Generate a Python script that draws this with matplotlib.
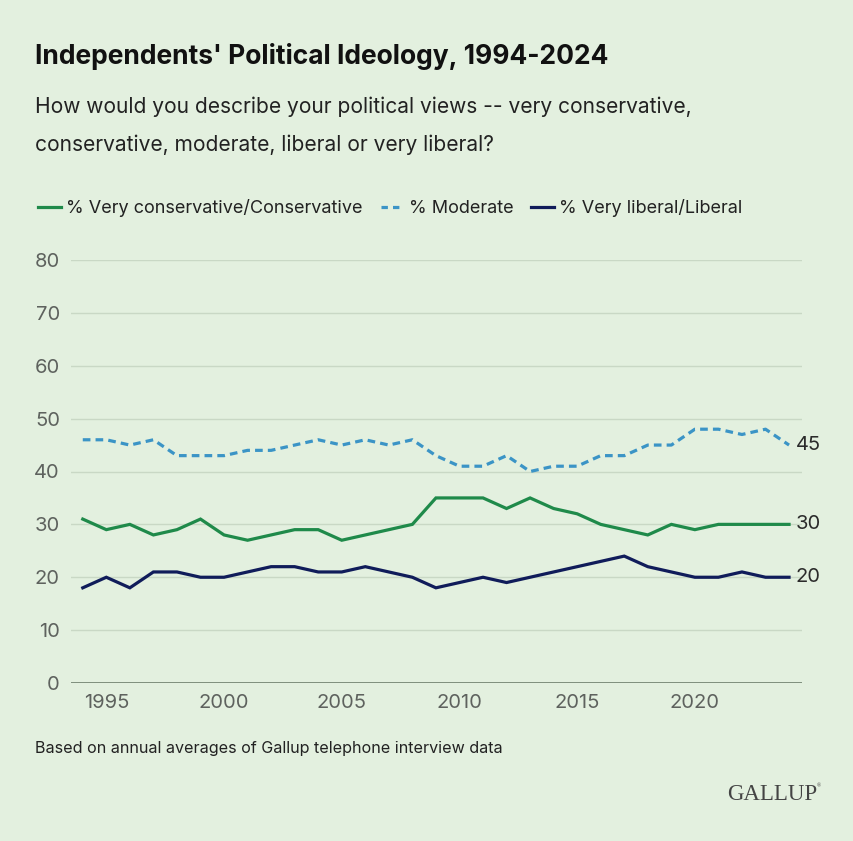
import matplotlib
matplotlib.use("Agg")
import matplotlib.pyplot as plt
from matplotlib.lines import Line2D

years = list(range(1994, 2025))
conservative = [31, 29, 30, 28, 29, 31, 28, 27, 28, 29, 29, 27, 28, 29, 30,
                35, 35, 35, 33, 35, 33, 32, 30, 29, 28, 30, 29, 30, 30, 30, 30]
moderate = [46, 46, 45, 46, 43, 43, 43, 44, 44, 45, 46, 45, 46, 45, 46,
            43, 41, 41, 43, 40, 41, 41, 43, 43, 45, 45, 48, 48, 47, 48, 45]
liberal = [18, 20, 18, 21, 21, 20, 20, 21, 22, 22, 21, 21, 22, 21, 20,
           18, 19, 20, 19, 20, 21, 22, 23, 24, 22, 21, 20, 20, 21, 20, 20]
series_labels = ["% Very conservative/Conservative", "% Moderate", "% Very liberal/Liberal"]
y_ticks = [0, 10, 20, 30, 40, 50, 60, 70, 80]
x_ticks = [1995, 2000, 2005, 2010, 2015, 2020]

BG = "#e3f0df"
GREEN = "#1f8a4a"
BLUE = "#3b94c6"
NAVY = "#101c5a"
FONT = ["Inter", "DejaVu Sans"]
plt.rcParams['font.family'] = FONT

W, H = 854, 841
fig = plt.figure(figsize=(W / 100, H / 100), dpi=100, facecolor=BG)

def fx(px):
    return px / W

def fy(py):
    return 1 - py / H

ax = fig.add_axes([fx(71), fy(683), fx(802) - fx(71), fy(260) - fy(683)])
ax.set_facecolor(BG)

lw = 2.3
ax.plot(years, conservative, color=GREEN, lw=lw, solid_joinstyle="miter", zorder=3)
ax.plot(years, moderate, color=BLUE, lw=lw, dashes=(2.4, 1.6), zorder=3)
ax.plot(years, liberal, color=NAVY, lw=lw, solid_joinstyle="miter", zorder=3)

ax.set_xlim(1993.5, 2024.55)
ax.set_ylim(0, 80)
ax.set_yticks(y_ticks)
ax.set_xticks(x_ticks)
for s in ax.spines.values():
    s.set_visible(False)
ax.tick_params(axis="both", length=0, labelsize=14.5, labelcolor="#5e625e")
ax.tick_params(axis="y", pad=8)
ax.tick_params(axis="x", pad=8)
ax.grid(axis="y", color="#c9d8c5", lw=1.0, zorder=1)
ax.axhline(0, color="#6f7f6d", lw=1.2, zorder=2)

for vals in (moderate, conservative, liberal):
    ax.annotate(f"{vals[-1]}", xy=(years[-1], vals[-1]), xytext=(5, 0),
                textcoords="offset points", va="center", ha="left",
                fontsize=14.5, color="#2b2b2b")

fig.text(fx(35), fy(57), "Independents' Political Ideology, 1994-2024",
         fontsize=19, fontweight="bold", color="#111111", va="center", ha="left")
fig.text(fx(35), fy(107), "How would you describe your political views -- very conservative,",
         fontsize=15.1, color="#222222", va="center", ha="left")
fig.text(fx(35), fy(145), "conservative, moderate, liberal or very liberal?",
         fontsize=15.1, color="#222222", va="center", ha="left")

handles = [Line2D([], [], color=GREEN, lw=lw),
           Line2D([], [], color=BLUE, lw=lw, dashes=(2.0, 1.6)),
           Line2D([], [], color=NAVY, lw=lw)]
leg = fig.legend(handles, series_labels, loc="center left",
                 bbox_to_anchor=(fx(22), fy(208)), ncol=3, frameon=False,
                 fontsize=13, handlelength=1.25, handletextpad=0.3,
                 columnspacing=1.0, labelcolor="#222222")

fig.text(fx(35), fy(748), "Based on annual averages of Gallup telephone interview data",
         fontsize=11.6, color="#222222", va="center", ha="left")
fig.text(fx(817), fy(795), "GALLUP", fontsize=16.5, color="#444444",
         family=["Liberation Serif", "DejaVu Serif"], va="center", ha="right")
fig.text(fx(817), fy(786), "\u00ae", fontsize=4, color="#444444",
         family=["Liberation Serif", "DejaVu Serif"], va="center", ha="left")

fig.savefig("out.png", dpi=100, facecolor=BG)
